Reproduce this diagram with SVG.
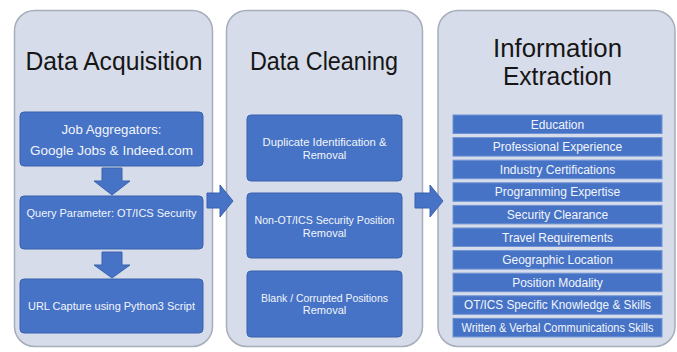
<svg xmlns="http://www.w3.org/2000/svg" width="677" height="352" viewBox="0 0 677 352">
<style>
.panel{fill:#d7dcea;stroke:#a7adba;stroke-width:1.5}
.box{fill:#4673c6;stroke:#3a63ac;stroke-width:1}
.bar{fill:#4673c6;stroke:#6f93d4;stroke-width:1}
.arrow{fill:#4673c6;stroke:#3a63ac;stroke-width:1}
.title{font-family:"Liberation Sans",Arial,sans-serif;font-size:25px;fill:#161616;text-anchor:middle}
.t{font-family:"Liberation Sans",Arial,sans-serif;fill:#f2f5fb;text-anchor:middle}
.t11{font-size:11px}
.t12{font-size:12px}
.t13{font-size:13.5px}
</style>
<rect width="677" height="352" fill="#ffffff"/>
<g id="panel-acquisition">
<rect class="panel" x="14.5" y="10.5" width="198" height="336" rx="20"/>
<text class="title" x="114" y="70" textLength="177" lengthAdjust="spacingAndGlyphs">Data Acquisition</text>
</g>
<g id="panel-cleaning">
<rect class="panel" x="226.5" y="10.5" width="196" height="336" rx="20"/>
<text class="title" x="324" y="70" textLength="148" lengthAdjust="spacingAndGlyphs">Data Cleaning</text>
</g>
<g id="panel-extraction">
<rect class="panel" x="438" y="10.5" width="237" height="336" rx="20"/>
<text class="title" x="557.5" y="57" textLength="129" lengthAdjust="spacingAndGlyphs">Information</text>
<text class="title" x="557.5" y="85" textLength="109" lengthAdjust="spacingAndGlyphs">Extraction</text>
</g>
<g id="job-aggregators">
<rect class="box" x="20" y="112" width="183" height="54" rx="4"/>
<text class="t t13" x="111.5" y="134" textLength="100" lengthAdjust="spacingAndGlyphs">Job Aggregators:</text>
<text class="t t13" x="111.5" y="155" textLength="163" lengthAdjust="spacingAndGlyphs">Google Jobs &amp; Indeed.com</text>
</g>
<g id="query-parameter">
<rect class="box" x="20" y="196" width="183" height="53" rx="4"/>
<text class="t t11" x="111.5" y="216.5" textLength="170" lengthAdjust="spacingAndGlyphs">Query Parameter: OT/ICS Security</text>
</g>
<g id="url-capture">
<rect class="box" x="20" y="279" width="183" height="54" rx="4"/>
<text class="t t11" x="111.5" y="309.5" textLength="167" lengthAdjust="spacingAndGlyphs">URL Capture using Python3 Script</text>
</g>
<g id="duplicate-removal">
<rect class="box" x="247" y="115" width="155" height="66" rx="4"/>
<text class="t t11" x="324.5" y="146" textLength="124" lengthAdjust="spacingAndGlyphs">Duplicate Identification &amp;</text>
<text class="t t11" x="324.5" y="158.5">Removal</text>
</g>
<g id="non-ot-removal">
<rect class="box" x="247" y="193" width="155" height="65" rx="4"/>
<text class="t t11" x="324.5" y="224" textLength="140" lengthAdjust="spacingAndGlyphs">Non-OT/ICS Security Position</text>
<text class="t t11" x="324.5" y="236.5">Removal</text>
</g>
<g id="blank-removal">
<rect class="box" x="247" y="271" width="155" height="66" rx="4"/>
<text class="t t11" x="324.5" y="301.5" textLength="127" lengthAdjust="spacingAndGlyphs">Blank / Corrupted Positions</text>
<text class="t t11" x="324.5" y="314">Removal</text>
</g>
<g id="education"><rect class="bar" x="453" y="115" width="209" height="18.5"/><text class="t t12" x="557.5" y="128.5">Education</text></g>
<g id="professional-experience"><rect class="bar" x="453" y="137.6" width="209" height="18.5"/><text class="t t12" x="557.5" y="151.1">Professional Experience</text></g>
<g id="industry-certifications"><rect class="bar" x="453" y="160.2" width="209" height="18.5"/><text class="t t12" x="557.5" y="173.7">Industry Certifications</text></g>
<g id="programming-expertise"><rect class="bar" x="453" y="182.8" width="209" height="18.5"/><text class="t t12" x="557.5" y="196.3">Programming Expertise</text></g>
<g id="security-clearance"><rect class="bar" x="453" y="205.4" width="209" height="18.5"/><text class="t t12" x="557.5" y="218.9">Security Clearance</text></g>
<g id="travel-requirements"><rect class="bar" x="453" y="228" width="209" height="18.5"/><text class="t t12" x="557.5" y="241.5">Travel Requirements</text></g>
<g id="geographic-location"><rect class="bar" x="453" y="250.6" width="209" height="18.5"/><text class="t t12" x="557.5" y="264.1">Geographic Location</text></g>
<g id="position-modality"><rect class="bar" x="453" y="273.2" width="209" height="18.5"/><text class="t t12" x="557.5" y="286.7">Position Modality</text></g>
<g id="otics-knowledge"><rect class="bar" x="453" y="295.8" width="209" height="18.5"/><text class="t t12" x="557.5" y="309.3" textLength="187" lengthAdjust="spacingAndGlyphs">OT/ICS Specific Knowledge &amp; Skills</text></g>
<g id="communication-skills"><rect class="bar" x="453" y="318.4" width="209" height="18.5"/><text class="t t12" x="557.5" y="331.9" textLength="192" lengthAdjust="spacingAndGlyphs">Written &amp; Verbal Communications Skills</text></g>
<g id="connectors">
<polygon class="arrow" points="102,168 122,168 122,181 130,181 112,195 94,181 102,181"/>
<polygon class="arrow" points="102,252 122,252 122,265 130,265 112,278 94,265 102,265"/>
<polygon class="arrow" points="207,193 220,193 220,185 233,201 220,217 220,208 207,208"/>
<polygon class="arrow" points="415,193 430,193 430,185 443,201 430,217 430,208 415,208"/>
</g>
</svg>
